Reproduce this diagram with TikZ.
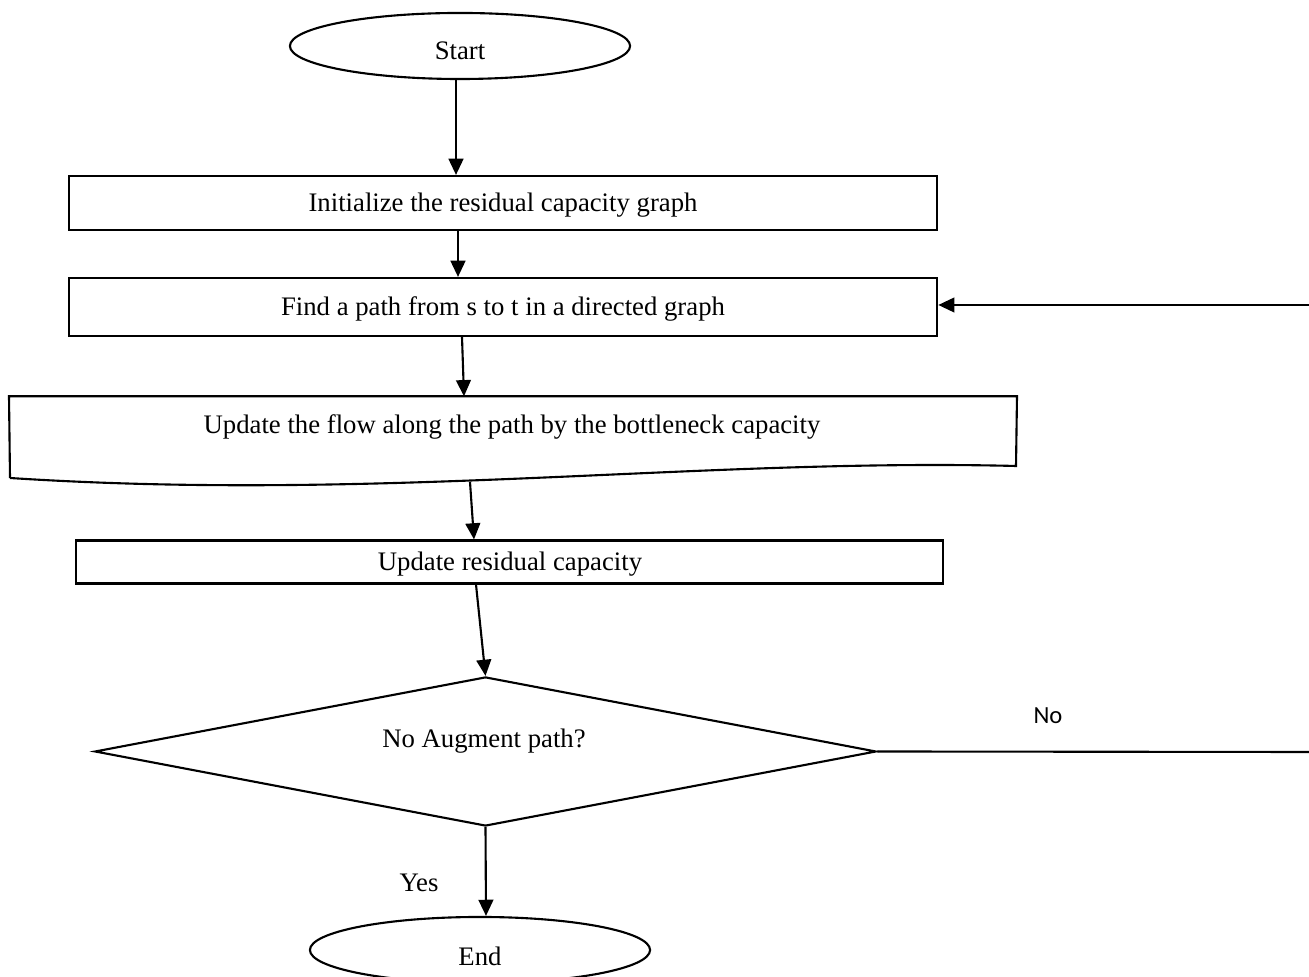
\documentclass[tikz,border=0pt]{standalone}
\usepackage{fontspec}
\setmainfont{Liberation Serif}
\newfontfamily\carlito{Carlito}
\usetikzlibrary{shapes.geometric,arrows.meta,calc}
\begin{document}
\begin{tikzpicture}[x=0.01cm,y=-0.01cm,
  every node/.style={font=\fontsize{7.6pt}{9pt}\selectfont, inner sep=0pt},
  arr/.style={line width=0.6pt, -{Triangle[length=4.6pt,width=4.2pt]}},
  term/.style={ellipse, draw, line width=0.6pt, minimum width=3.4cm, minimum height=0.66cm},
  procbox/.style={rectangle, draw, line width=0.6pt},
  decision/.style={diamond, draw, line width=0.6pt, minimum width=7.81cm, minimum height=1.49cm, aspect=5.24}]
\useasboundingbox (0,0) rectangle (1309,977);
\fill[white] (0,0) rectangle (1309,977);

\node[term] (start) at (460,46) {};
\node (starttxt) at (460,51) {Start};

\node[procbox, minimum width=8.68cm, minimum height=0.54cm] (box1) at (503,203) {};
\node (box1txt) at (503,205) {Initialize the residual capacity graph};
\node[procbox, minimum width=8.68cm, minimum height=0.58cm] (box2) at (503,307) {};
\node (box2txt) at (503,309) {Find a path from s to t in a directed graph};

\node[rectangle, minimum width=10.06cm, minimum height=0.70cm] (doc) at (513,432) {};
\draw[line width=0.6pt] (10,478) -- (doc.north west) -- (doc.north east) -- (1016,466)
  .. controls (700,458) and (380,502) .. (10,478);
\node (doctxt) at (512,427) {Update the flow along the path by the bottleneck capacity};

\node[procbox, minimum width=8.67cm, minimum height=0.43cm] (box4) at (509.5,562) {};
\node (box4txt) at (510,564) {Update residual capacity};

\node[decision] (dec) at (485.5,751.5) {};
\node (dectxt) at (484,741) {No Augment path?};

\node[term] (end) at (480,950) {};
\node (endtxt) at (480,956) {End};

\coordinate (fbtop) at (1312,305);
\coordinate (fbbot) at (1312,752);

\draw[arr] ($(start.south)+(-4,0)$) -- ($(box1.north)+(-47,0)$);
\draw[arr] ($(box1.south)+(-45,0)$) -- ($(box2.north)+(-45,0)$);
\draw[arr] ($(box2.south)+(-41,0)$) -- ($(doc.north)+(-49,0)$);
\draw[arr] (470,482) -- ($(box4.north)+(-35.5,0)$);
\draw[arr] ($(box4.south)+(-33.5,0)$) -- (dec.north);
\draw[arr] (dec.south) -- ($(end.north)+(6,0)$);
\draw[arr] (fbtop) -- (box2.east |- fbtop);
\draw[line width=0.6pt] (dec.east) -- (fbbot);

\node[font=\carlito\fontsize{7pt}{8pt}\selectfont] (nolbl) at (1048,716) {No};
\node (yeslbl) at (419,883) {Yes};
\end{tikzpicture}
\end{document}
